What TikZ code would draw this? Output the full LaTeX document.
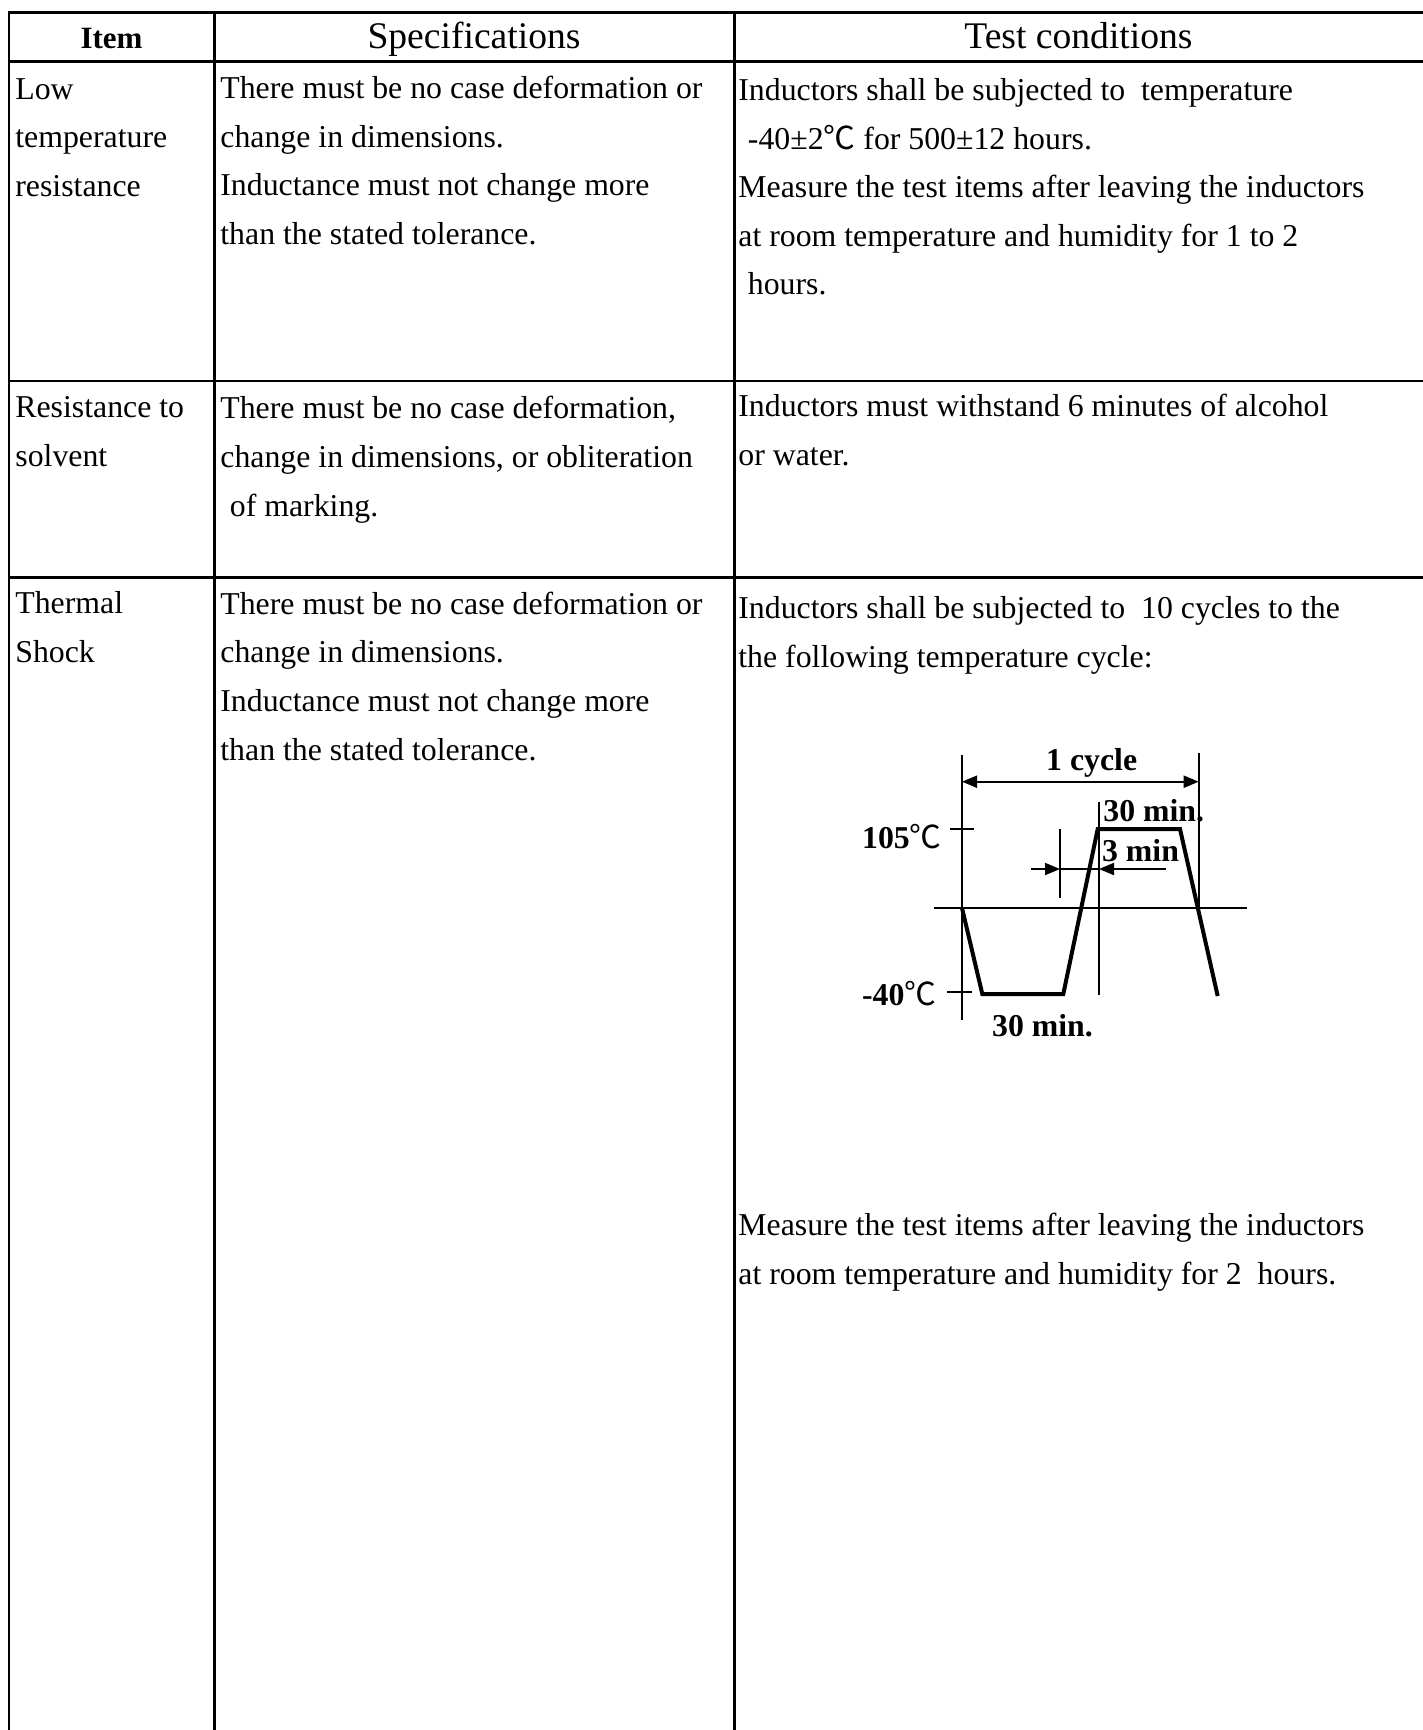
\documentclass[tikz,border=0pt]{standalone}
\usepackage{fontspec}
\setmainfont{Liberation Serif}
\newfontfamily\cjkfont{Noto Sans CJK SC}
\usetikzlibrary{arrows.meta}
\newcommand{\degc}{{\cjkfont ℃}}

\tikzset{
	rule/.style={line width=1.4pt},
	cell/.style={anchor=north west, inner sep=0pt, align=left, font=\fontsize{15.9}{24.3}\selectfont},
	headcell/.style={anchor=base, inner sep=0pt, font=\fontsize{18.8}{20}\selectfont},
	glabel/.style={inner sep=0pt, font=\fontsize{15.9}{18}\selectfont\bfseries},
	thinline/.style={line width=1pt},
	curve/.style={line width=2pt},
	tip/.style={-{Triangle[length=7.5pt,width=6pt]}, line width=1pt}
}

\begin{document}
\begin{tikzpicture}[x=0.5pt,y=-0.5pt]
			\useasboundingbox (0,0) rectangle (1423,1730);

			% Table rules
			\foreach \y in {12.5,61.3,381,577.3}
			\draw[rule] (8.3,\y) -- (1423,\y);
			\foreach \x in {9,214.3,734.3}
			\draw[rule] (\x,12.5) -- (\x,1730);

			% Header
			\node[headcell, font=\fontsize{15.5}{18}\selectfont\bfseries] (hitem) at (111.5,48.3) {Item};
			\node[headcell] (hspec) at (474,48.5) {Specifications};
			\node[headcell] (htest) at (1078.5,48.5) {Test conditions};

			% Low temperature resistance
			\node[cell] (item1) at (15,78) {Low\\temperature\\resistance};
			\node[cell] (spec1) at (220,76) {There must be no case deformation or\\change in dimensions.\\Inductance must not change more\\than the stated tolerance.};
			\node[cell] (test1) at (738,78) {Inductors shall be subjected to\ \ temperature\\\hspace{0.3em}-40±2\degc\ for 500±12 hours.\\Measure the test items after leaving the inductors\\at room temperature and humidity for 1 to 2\\\hspace{0.3em}hours.};

			% Resistance to solvent
			\node[cell] (item2) at (15,396) {Resistance to\\solvent};
			\node[cell] (spec2) at (220,396) {There must be no case deformation,\\change in dimensions, or obliteration\\\hspace{0.3em}of marking.};
			\node[cell] (test2) at (738,394) {Inductors must withstand 6 minutes of alcohol\\or water.};

			% Thermal shock
			\node[cell] (item3) at (15,591.5) {Thermal\\Shock};
			\node[cell] (spec3) at (220,591.5) {There must be no case deformation or\\change in dimensions.\\Inductance must not change more\\than the stated tolerance.};
			\node[cell] (test3) at (738,596) {Inductors shall be subjected to\ \ 10 cycles to the\\the following temperature cycle:};
			\node[cell] (test3b) at (738,1213) {Measure the test items after leaving the inductors\\at room temperature and humidity for 2\ \ hours.};

			% Temperature cycle
			\draw[line width=1.3pt] (934,908) -- (1246.7,908);
			\draw[thinline] (962,755) -- (962,1020);
			\draw[thinline] (1198.7,753) -- (1198.7,908);
			\draw[thinline] (1099,801.7) -- (1099,995);
			\draw[thinline] (1060,829) -- (1060,898);
			\draw[thinline] (950,829) -- (974,829);
			\draw[thinline] (947,992.3) -- (972,992.3);
			\draw[curve] (962,908) -- (982.3,994) -- (1063.3,994) -- (1097.7,829) -- (1180,829) -- (1217.7,996);

			% Dimension arrows
			\draw[tip] (1080,781.7) -- (962,781.7);
			\draw[tip] (1080,781.7) -- (1198.7,781.7);
			\draw[thinline] (1060,869) -- (1099,869);
			\draw[tip] (1031,869) -- (1060,869);
			\draw[tip] (1165.7,869) -- (1099,869);

			% Labels
			\node[glabel, anchor=base] (cyc) at (1091.7,770) {1 cycle};
			\node[glabel, anchor=base west] (top30) at (1103,821.7) {30 min.};
			\node[glabel, anchor=base west] (m3) at (1101.7,861.7) {3 min};
			\node[glabel, anchor=base west] (bot30) at (991.7,1036) {30 min.};
			\node[glabel, anchor=base west] (hot) at (861.7,848) {105\mdseries\degc};
			\node[glabel, anchor=base west] (cold) at (861.7,1005) {-40\mdseries\degc};
		\end{tikzpicture}
\end{document}
